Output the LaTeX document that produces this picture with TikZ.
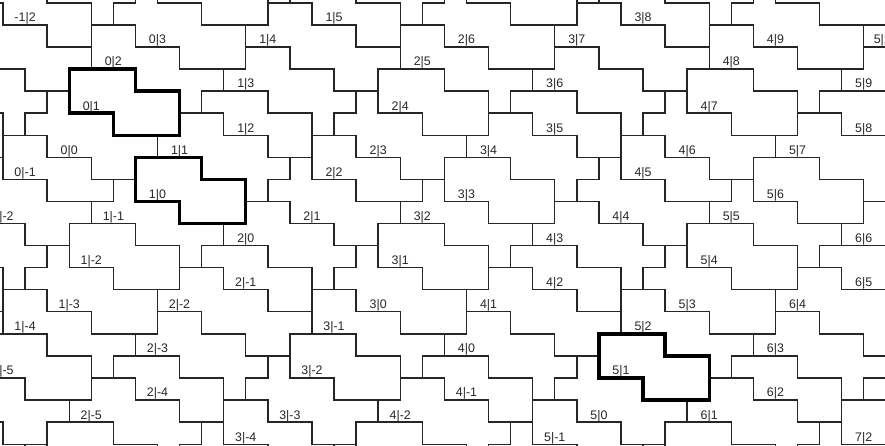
\documentclass[tikz,border=0pt]{standalone}
\usepackage{fontspec}
\setmainfont{Liberation Sans}
% tile index of grid cell (col #1, row #2) -> macro #3
\newcommand\tileid[3]{%
  \pgfmathtruncatemacro\tmpi{floor((12*(#1)+11*(#2)-58.5)/84)}%
  \pgfmathtruncatemacro\tmpj{floor((3*((#1)-2*(#2))+2.5)/14)}%
  \pgfmathtruncatemacro#3{100*\tmpi+\tmpj}%
}
\begin{document}
\begin{tikzpicture}[x=0.5cm,y=-0.5cm,
  tl/.style={line width=0.9pt, draw=black!85, line cap=rect},
  boldtile/.style={line width=2.2pt, draw=black, line join=miter},
  lab/.style={font=\fontsize{8}{9}\selectfont, inner sep=0pt, anchor=base, yshift=2pt, text=black!85}]
\fill[white] (-0.136,-0.127) rectangle (39.964,20.07);
\useasboundingbox (-0.136,-0.127) rectangle (39.964,20.07);
\clip (-0.136,-0.127) rectangle (39.964,20.07);
% tile boundaries
\foreach \m in {-1,...,20}{
  \foreach \k in {-1,...,40}{
    \tileid{\k}{\m}{\ida}
    \pgfmathtruncatemacro\kk{\k+1}
    \pgfmathtruncatemacro\mm{\m+1}
    \tileid{\kk}{\m}{\idb}
    \tileid{\k}{\mm}{\idc}
    \ifnum\ida=\idb\relax\else\draw[tl] (\kk,\m) -- (\kk,\mm);\fi
    \ifnum\ida=\idc\relax\else\draw[tl] (\k,\mm) -- (\kk,\mm);\fi
  }
}
% highlighted tiles
\draw[boldtile] (3,3) -- (6,3) -- (6,4) -- (8,4) -- (8,6) -- (5,6) -- (5,5) -- (3,5) -- cycle;
\draw[boldtile] (6,7) -- (9,7) -- (9,8) -- (11,8) -- (11,10) -- (8,10) -- (8,9) -- (6,9) -- cycle;
\draw[boldtile] (27,15) -- (30,15) -- (30,16) -- (32,16) -- (32,18) -- (29,18) -- (29,17) -- (27,17) -- cycle;
% labels
\foreach \i in {-2,...,8}{
  \foreach \j in {-8,...,12}{
    \pgfmathtruncatemacro\tt{floor((\j+0.5)/3)}
    \pgfmathtruncatemacro\jp{\j-3*\tt}
    \pgfmathtruncatemacro\ii{\i-2*\tt}
    \pgfmathtruncatemacro\ss{floor((\ii+0.5)/5)}
    \pgfmathtruncatemacro\ip{\ii-5*\ss}
    \pgfmathtruncatemacro\idx{5*\jp+\ip}
    \pgfmathtruncatemacro\X{{3,7,11,17,21,4,8,14,18,22,5,11,15,19,25}[\idx]+14*\tt+24*\ss}
    \pgfmathtruncatemacro\Y{{7,9,11,14,16,5,7,10,12,14,3,6,8,10,13}[\idx]+12*\ss}
    \ifnum\X>-3\relax\ifnum\X<43\relax\ifnum\Y>0\relax\ifnum\Y<22\relax
      \node[lab] (lbl-\i-\j) at (\X,\Y) {\i|\j};
    \fi\fi\fi\fi
  }
}
\end{tikzpicture}
\end{document}
